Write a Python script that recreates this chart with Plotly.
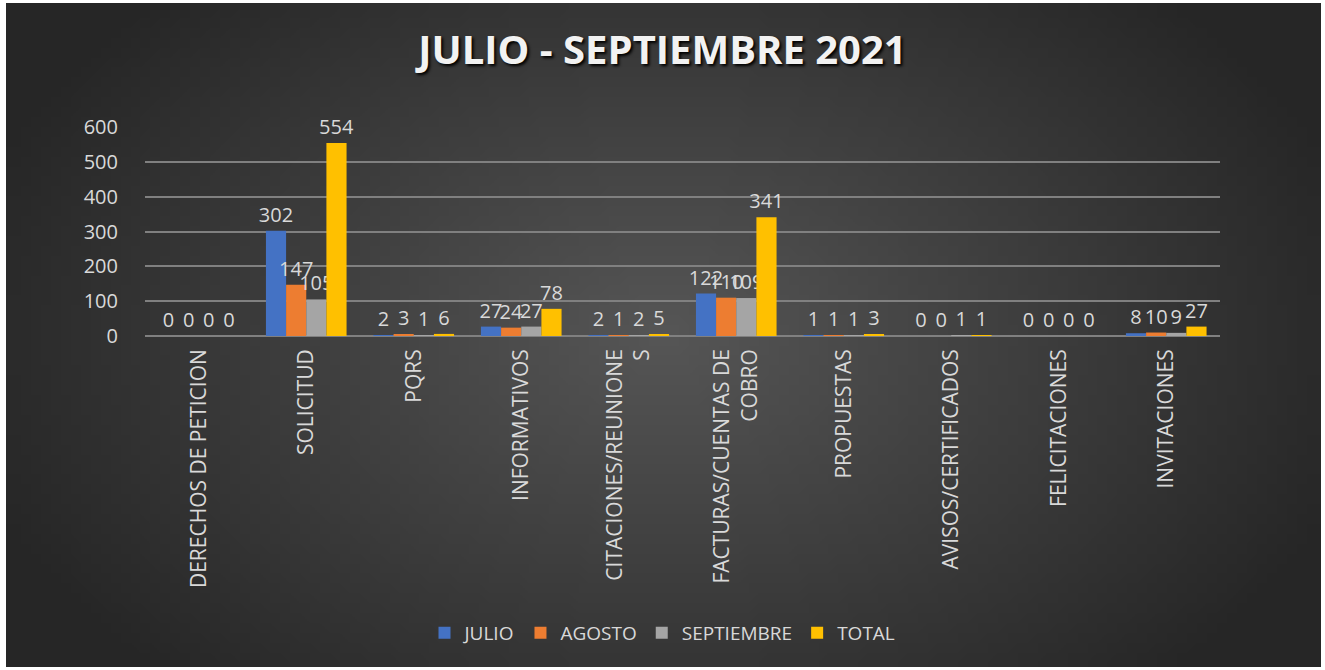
import base64, struct, zlib, math
import plotly.graph_objects as go

categories = ["DERECHOS DE PETICION", "SOLICITUD", "PQRS", "INFORMATIVOS",
              "CITACIONES/REUNIONE<br>S", "FACTURAS/CUENTAS DE<br>COBRO", "PROPUESTAS",
              "AVISOS/CERTIFICADOS", "FELICITACIONES", "INVITACIONES"]
julio = [0, 302, 2, 27, 2, 122, 1, 0, 0, 8]
agosto = [0, 147, 3, 24, 1, 110, 1, 0, 0, 10]
septiembre = [0, 105, 1, 27, 2, 109, 1, 1, 0, 9]
total = [0, 554, 6, 78, 5, 341, 3, 1, 0, 27]
series_names = ["JULIO", "AGOSTO", "SEPTIEMBRE", "TOTAL"]
colors = ["#4472C4", "#ED7D31", "#A5A5A5", "#FFC000"]

W, H = 1325, 670

# radial gradient background image (PNG generated in script)
def make_png(w, h):
    cx, cy, ax, ay = w * 0.5, h * 0.50, w * 0.55, h * 0.72
    c_in, c_out = 86, 38
    raw = bytearray()
    for j in range(h):
        raw.append(0)
        for i in range(w):
            r = math.sqrt(((i + 0.5 - cx) / ax) ** 2 + ((j + 0.5 - cy) / ay) ** 2)
            r = min(1.0, r)
            v = int(round(c_in - (c_in - c_out) * r))
            raw += bytes((v, v, v))
    def chunk(t, d):
        c = struct.pack(">I", len(d)) + t + d
        return c + struct.pack(">I", zlib.crc32(t + d) & 0xffffffff)
    png = b"\x89PNG\r\n\x1a\n" + chunk(b"IHDR", struct.pack(">IIBBBBB", w, h, 8, 2, 0, 0, 0))
    png += chunk(b"IDAT", zlib.compress(bytes(raw), 9)) + chunk(b"IEND", b"")
    return "data:image/png;base64," + base64.b64encode(png).decode()

bg = make_png(132, 67)

fig = go.Figure()
for name, vals, col in zip(series_names, [julio, agosto, septiembre, total], colors):
    fig.add_trace(go.Bar(
        x=categories, y=vals, name=name, marker=dict(color=col, line=dict(width=0)),
        text=[str(v) for v in vals], textposition="outside", cliponaxis=False,
        constraintext="none",
        textfont=dict(family="Open Sans", size=20, color="#d9d9d9"),
        hoverinfo="x+y+name",
    ))

def px_x(p):
    return p / W

def px_y(p):
    return 1 - p / H

fig.update_layout(
    template="none",
    width=W, height=H, autosize=False,
    margin=dict(l=0, r=0, t=0, b=0, pad=0, autoexpand=False),
    paper_bgcolor="white",
    plot_bgcolor="rgba(0,0,0,0)",
    font=dict(family="Open Sans", color="#d9d9d9"),
    barmode="group", bargap=0.25, bargroupgap=0,
    images=[dict(source=bg, xref="paper", yref="paper", x=px_x(6), y=px_y(3),
                 sizex=px_x(1321) - px_x(6), sizey=px_y(3) - px_y(667),
                 xanchor="left", yanchor="top", sizing="stretch", layer="below")],
    title=dict(text="JULIO - SEPTIEMBRE 2021", x=0.5, xanchor="center", xref="paper",
               y=px_y(50), yanchor="middle", yref="paper",
               font=dict(family="Open Sans", size=40, color="#f2f2f2", weight="bold",
                         shadow="2px 2px 3px #000000")),
    xaxis=dict(domain=[px_x(145), px_x(1220)], tickangle=-90, automargin=False,
               tickfont=dict(family="Open Sans", size=21, color="#d9d9d9"),
               showgrid=False, showline=False, zeroline=False, ticks="", ticklabelstandoff=8),
    yaxis=dict(domain=[px_y(336), px_y(127)], range=[0, 600], dtick=100, automargin=False,
               tickfont=dict(family="Open Sans", size=20, color="#d9d9d9"),
               showgrid=True, gridcolor="#808080", gridwidth=1.5, zeroline=True,
               zerolinecolor="#808080", zerolinewidth=1.5, showline=False, ticks="",
               ticklabelstandoff=26),
    legend=dict(orientation="h", x=0.5, xanchor="center", y=px_y(633), yanchor="middle",
                font=dict(family="Open Sans", size=19, color="#d9d9d9"),
                bgcolor="rgba(0,0,0,0)", itemwidth=30, traceorder="normal"),
    showlegend=True,
)

fig.write_html("out.html", config={"displayModeBar": False},
               post_script="document.body.style.margin='0px';")
